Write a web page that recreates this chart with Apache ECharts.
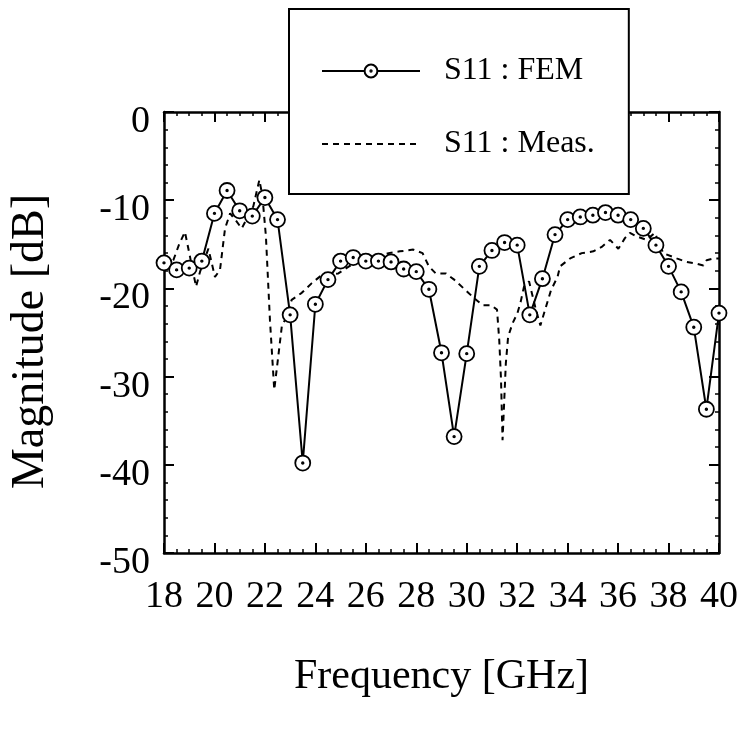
<!DOCTYPE html>
<html>
<head>
<meta charset="utf-8">
<script src="https://cdn.jsdelivr.net/npm/echarts@6/dist/echarts.min.js"></script>
<style>
html,body{margin:0;padding:0;background:#fff;}
#chart{width:744px;height:731px;}
</style>
</head>
<body>
<div id="chart"></div>
<script>
// ---- data ----
const femFreq = [18.0,18.5,19.0,19.5,20.0,20.5,21.0,21.5,22.0,22.5,23.0,23.5,24.0,24.5,25.0,25.5,26.0,26.5,27.0,27.5,28.0,28.5,29.0,29.5,30.0,30.5,31.0,31.5,32.0,32.5,33.0,33.5,34.0,34.5,35.0,35.5,36.0,36.5,37.0,37.5,38.0,38.5,39.0,39.5,40.0];
const femDb = [-17.1,-17.9,-17.7,-16.9,-11.5,-8.9,-11.2,-11.8,-9.7,-12.2,-23.0,-39.8,-21.8,-19.0,-16.9,-16.5,-16.9,-16.9,-17.0,-17.8,-18.1,-20.1,-27.3,-36.8,-27.4,-17.5,-15.7,-14.8,-15.1,-23.0,-18.9,-13.9,-12.2,-11.9,-11.7,-11.4,-11.7,-12.2,-13.2,-15.1,-17.5,-20.4,-24.4,-33.7,-22.8];
const measFreq = [18.0,18.37,18.6,18.83,19.03,19.27,19.43,19.76,20.02,20.22,20.42,20.62,20.85,21.08,21.54,21.78,21.9,22.04,22.2,22.37,22.53,22.67,22.86,23.06,23.46,23.86,24.25,24.91,25.5,26.2,26.9,27.35,27.88,28.25,28.5,28.77,29.17,29.5,30.03,30.29,30.63,30.96,31.2,31.29,31.36,31.42,31.55,31.64,31.81,32.01,32.14,32.27,32.47,32.74,32.92,33.14,33.34,33.6,33.7,34.1,34.56,35.02,35.35,35.68,36.01,36.27,36.47,36.73,37.13,37.46,37.79,38.32,38.72,39.12,39.38,39.51,39.78,40.0];
const measDb = [-17.5,-16.8,-15.0,-13.6,-16.4,-19.8,-18.1,-15.5,-18.7,-17.9,-13.2,-11.5,-12.3,-13.2,-10.7,-7.7,-9.5,-14.1,-23.6,-31.5,-27.7,-24.3,-23.2,-21.3,-20.5,-19.4,-18.5,-18.3,-17.2,-16.6,-16.0,-15.8,-15.6,-16.0,-17.5,-18.3,-18.3,-19.0,-20.4,-21.1,-21.9,-21.9,-22.4,-25.9,-30.4,-37.2,-28.5,-25.5,-24.0,-22.8,-21.5,-19.8,-19.2,-22.4,-24.2,-22.1,-20.2,-18.7,-17.5,-16.6,-16.0,-15.8,-15.3,-14.5,-15.5,-14.3,-13.7,-14.1,-14.5,-13.7,-16.0,-16.6,-17.0,-17.2,-17.4,-16.8,-16.6,-16.6];
const xTicks = [18,20,22,24,26,28,30,32,34,36,38,40];
const yTicks = [0,-10,-20,-30,-40,-50];
const seriesNames = ['S11 : FEM', 'S11 : Meas.'];
const xName = 'Frequency [GHz]';
const yName = 'Magnitude [dB]';

// ---- chart ----
const FONT = "'Liberation Serif','Times New Roman',serif";
const femData = femFreq.map((f, i) => [f, femDb[i]]);
const measData = measFreq.map((f, i) => [f, measDb[i]]);
const ringDot = 'path://M50,2A48,48,0,1,1,49.99,2ZM50,45A5,5,0,1,1,49.99,45Z';

const axisLineStyle = {color: '#000', width: 2.5};
const baseX = {
  type: 'value', min: xTicks[0], max: xTicks[xTicks.length - 1], interval: 2,
  axisLine: {show: true, onZero: false, lineStyle: axisLineStyle},
  axisTick: {show: true, inside: true, length: 10, lineStyle: {color: '#000', width: 2}},
  minorTick: {show: true, splitNumber: 4, length: 4, lineStyle: {color: '#000', width: 1.5}},
  splitLine: {show: false}
};
const baseY = {
  type: 'value', min: yTicks[yTicks.length - 1], max: yTicks[0], interval: 10,
  axisLine: {show: true, onZero: false, lineStyle: axisLineStyle},
  axisTick: {show: true, inside: true, length: 10, lineStyle: {color: '#000', width: 2}},
  minorTick: {show: true, splitNumber: 5, length: 4, lineStyle: {color: '#000', width: 1.5}},
  splitLine: {show: false}
};

const chart = echarts.init(document.getElementById('chart'));
chart.setOption({
  backgroundColor: '#fff',
  animation: false,
  grid: {left: 164, right: 25, top: 112, bottom: 178, containLabel: false},
  legend: {
    left: 289, top: 9, orient: 'vertical',
    backgroundColor: '#fff', borderColor: '#000', borderWidth: 2,
    padding: [46, 34, 34, 32],
    itemWidth: 98, itemHeight: 16, itemGap: 41,
    textStyle: {fontFamily: FONT, fontSize: 32, color: '#000', lineHeight: 26, padding: [0, 0, 0, 19]},
    data: [
      {name: seriesNames[0]},
      {name: seriesNames[1], itemStyle: {opacity: 0}}
    ]
  },
  xAxis: [
    Object.assign({}, baseX, {
      position: 'bottom',
      name: xName, nameLocation: 'middle', nameGap: 103,
      nameTextStyle: {fontFamily: FONT, fontSize: 42, color: '#000'},
      axisLabel: {show: true, margin: 25, fontFamily: FONT, fontSize: 38, color: '#000'}
    }),
    Object.assign({}, baseX, {position: 'top', axisLabel: {show: false}})
  ],
  yAxis: [
    Object.assign({}, baseY, {
      position: 'left',
      name: yName, nameLocation: 'middle', nameGap: 110,
      nameTextStyle: {fontFamily: FONT, fontSize: 46, color: '#000', padding: [0, 18, 0, 0]},
      axisLabel: {show: true, margin: 14, fontFamily: FONT, fontSize: 38, color: '#000', lineHeight: 20, verticalAlign: 'top'}
    }),
    Object.assign({}, baseY, {position: 'right', axisLabel: {show: false}})
  ],
  series: [
    {
      name: seriesNames[0], type: 'line', data: femData,
      xAxisIndex: 0, yAxisIndex: 0,
      symbol: ringDot, symbolSize: 15, showAllSymbol: true,
      lineStyle: {color: '#000', width: 2},
      itemStyle: {color: '#fff', borderColor: '#000', borderWidth: 1.8},
      z: 3
    },
    {
      name: seriesNames[1], type: 'line', data: measData,
      xAxisIndex: 0, yAxisIndex: 0,
      symbol: 'none', showSymbol: false,
      lineStyle: {color: '#000', width: 2, type: [6, 5]},
      itemStyle: {color: '#000'},
      z: 2
    }
  ]
});
</script>
</body>
</html>
